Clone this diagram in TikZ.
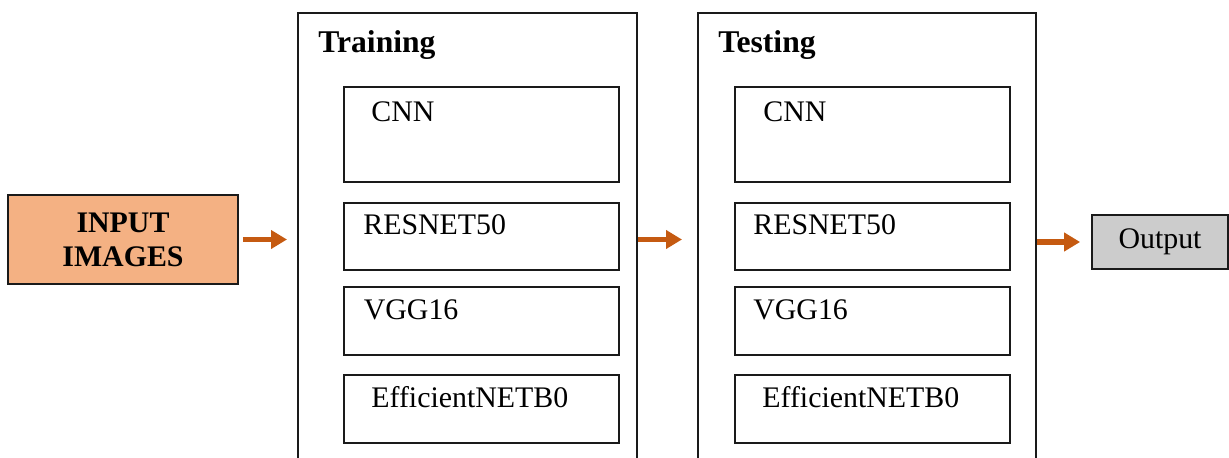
\documentclass[tikz,border=0pt]{standalone}
\usepackage{fontspec}
\setmainfont{Liberation Serif}
\usetikzlibrary{arrows.meta,positioning,calc}
\definecolor{arroworange}{HTML}{C55A11}
\definecolor{inputpeach}{HTML}{F4B183}
\definecolor{outputgray}{HTML}{CCCCCC}
\definecolor{ink}{HTML}{1A1A1A}
\tikzset{
  flow/.style={-{Triangle[length=3.2mm,width=3.6mm]},draw=arroworange,line width=1.1mm},
  box/.style={draw=ink,line width=1pt,inner sep=0pt},
  panel/.style={box,anchor=north west,minimum width=6.78cm,minimum height=9.6cm},
  modelbox/.style={box,anchor=north west,minimum width=5.5cm},
  modeltext/.style={anchor=base west,inner sep=0pt,font=\fontsize{17}{20}\selectfont},
  paneltitle/.style={anchor=base west,inner sep=0pt,font=\fontsize{18}{21}\selectfont\bfseries},
}
\begin{document}
\begin{tikzpicture}[x=1cm,y=1cm]
\useasboundingbox (0,0) rectangle (24.58,9.14);
\clip (0,0) rectangle (24.58,9.14);

\node[box,fill=inputpeach,minimum width=4.6cm,minimum height=1.78cm,align=center,
  font=\fontsize{17}{19.3}\selectfont\bfseries] (input) at (2.46,4.35) {INPUT\\IMAGES};

% training panel
\node[panel] (training) at (5.94,8.90) {};
\node[paneltitle] (traintitle) at (6.36,8.10) {Training};
\node[modelbox,minimum height=1.90cm] (trcnn) at (6.86,7.42) {};
\node[modelbox,minimum height=1.34cm] (trres) at (6.86,5.10) {};
\node[modelbox,minimum height=1.36cm] (trvgg) at (6.86,3.42) {};
\node[modelbox,minimum height=1.36cm] (treff) at (6.86,1.66) {};
\node[modeltext] (trcnnlbl) at ([xshift=5.6mm,yshift=-7mm]trcnn.north west) {CNN};
\node[modeltext] (trreslbl) at ([xshift=4mm,yshift=-6.4mm]trres.north west) {RESNET50};
\node[modeltext] (trvgglbl) at ([xshift=4.1mm,yshift=-6.6mm]trvgg.north west) {VGG16};
\node[modeltext] (trefflbl) at ([xshift=5.6mm,yshift=-6.6mm]treff.north west) {EfficientNETB0};

% testing panel
\node[panel,minimum width=6.76cm] (testing) at (13.94,8.90) {};
\node[paneltitle] (testtitle) at (14.36,8.10) {Testing};
\node[modelbox,minimum height=1.90cm] (tecnn) at (14.68,7.42) {};
\node[modelbox,minimum height=1.34cm] (teres) at (14.68,5.10) {};
\node[modelbox,minimum height=1.36cm] (tevgg) at (14.68,3.42) {};
\node[modelbox,minimum height=1.36cm] (teeff) at (14.68,1.66) {};
\node[modeltext] (tecnnlbl) at ([xshift=5.8mm,yshift=-7mm]tecnn.north west) {CNN};
\node[modeltext] (tereslbl) at ([xshift=3.8mm,yshift=-6.4mm]teres.north west) {RESNET50};
\node[modeltext] (tevgglbl) at ([xshift=3.8mm,yshift=-6.6mm]tevgg.north west) {VGG16};
\node[modeltext] (teefflbl) at ([xshift=5.6mm,yshift=-6.6mm]teeff.north west) {EfficientNETB0};

\node[box,fill=outputgray,minimum width=2.72cm,minimum height=1.08cm,
  font=\fontsize{17}{20}\selectfont] (output) at (23.20,4.30) {Output\hspace{2mm}};

\draw[flow,shorten <=.8mm,shorten >=2mm] (input.east) -- (input.east -| training.west);
\draw[flow,shorten >=3mm] (training.east |- input.east) -- (testing.west |- input.east);
\draw[flow,shorten >=2.2mm] (testing.east |- output) -- (output);
\end{tikzpicture}
\end{document}
